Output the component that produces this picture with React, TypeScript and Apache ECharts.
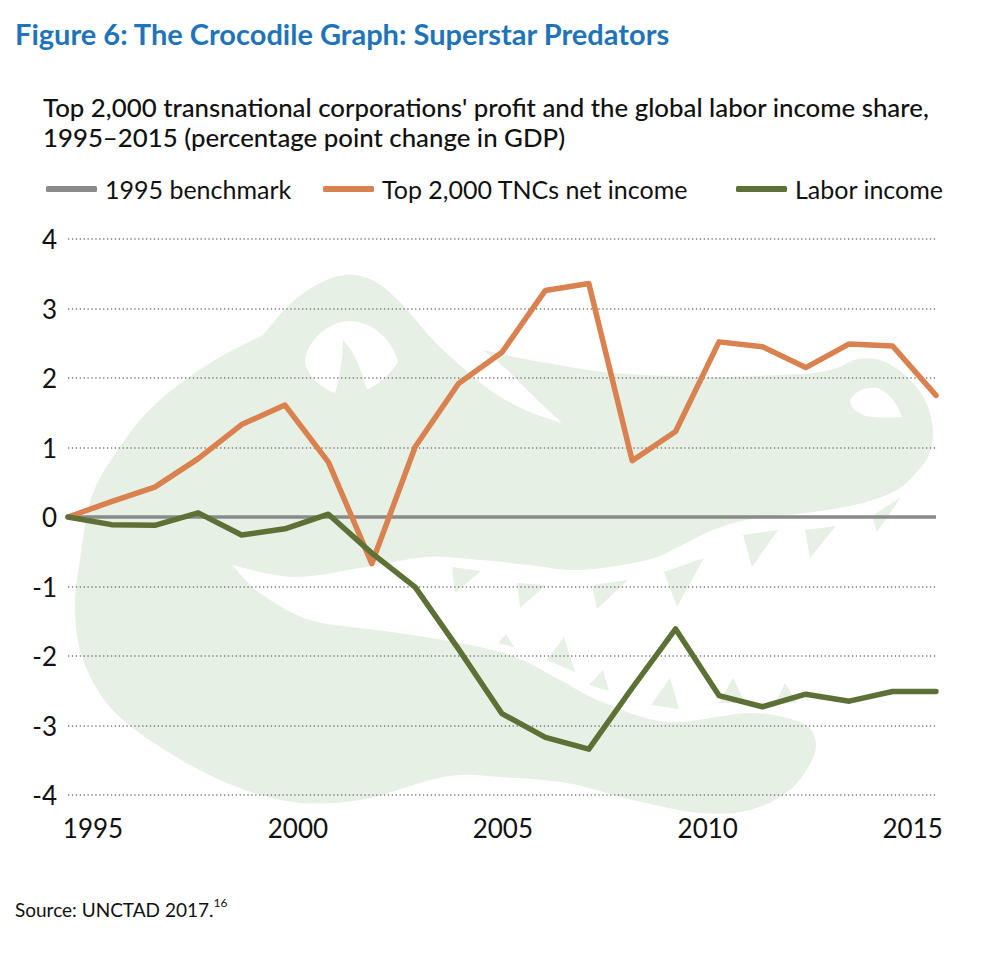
import React, { useEffect, useRef } from 'react';
import * as echarts from 'echarts';

// ---------- data ----------
const YEARS = ['1995', '1996', '1997', '1998', '1999', '2000', '2001', '2002', '2003', '2004', '2005',
  '2006', '2007', '2008', '2009', '2010', '2011', '2012', '2013', '2014', '2015'];
const BENCHMARK_1995 = [0, 0, 0, 0, 0, 0, 0, 0, 0, 0, 0, 0, 0, 0, 0, 0, 0, 0, 0, 0, 0];
const TNC_NET_INCOME = [0, 0.22, 0.43, 0.84, 1.33, 1.61, 0.79, -0.67, 1.01, 1.92, 2.37,
  3.26, 3.36, 0.81, 1.23, 2.52, 2.45, 2.15, 2.49, 2.46, 1.75];
const LABOR_INCOME = [0, -0.11, -0.12, 0.06, -0.26, -0.17, 0.04, -0.52, -1.01, -1.9, -2.83,
  -3.17, -3.34, -2.46, -1.61, -2.57, -2.73, -2.55, -2.65, -2.51, -2.51];
const YEAR_TICK_LABELS = [1995, 2000, 2005, 2010, 2015];
const SERIES_NAMES = ['1995 benchmark', 'Top 2,000 TNCs net income', 'Labor income'];

const TITLE = 'Figure 6: The Crocodile Graph: Superstar Predators';
const SUBTITLE_LINES = [
  "Top 2,000 transnational corporations' profit and the global labor income share,",
  '1995–2015 (percentage point change in GDP)',
];
const SOURCE = 'Source: UNCTAD 2017.';
const SOURCE_NOTE = '16';

// ---------- decorative crocodile silhouette (page coordinates) ----------
const SEG_A = [[232, 565], [260, 593], [310, 620], [377, 630], [443, 640], [510, 655], [560, 680], [600, 701],
  [667, 722], [750, 713], [800, 722], [815, 738], [812, 760], [790, 790], [750, 810], [700, 813], [633, 800],
  [567, 783], [500, 777], [460, 775], [427, 781], [360, 800], [293, 802], [227, 783], [160, 747], [110, 707],
  [82, 657], [75, 607], [80, 560], [93, 493], [127, 437], [160, 400], [210, 363], [263, 335]];
const SEG_B = [[263, 335], [290, 304], [318, 284], [345, 275], [372, 280], [400, 302], [433, 340], [460, 365],
  [490, 390], [525, 410], [562, 423]];
const SEG_C = [[562, 423], [530, 393], [505, 368], [483, 350]];
const SEG_D = [[483, 350], [520, 358], [547, 363], [613, 373], [713, 377], [780, 375], [813, 373], [837, 368],
  [858, 359], [883, 361], [907, 377], [925, 400], [933, 430], [929, 455], [915, 474], [897, 490], [863, 503],
  [813, 512], [747, 520], [713, 530], [680, 546], [647, 560], [580, 570], [530, 565], [480, 560], [427, 557],
  [360, 568], [293, 577], [232, 565]];
const TEETH = [
  [[517, 583], [546, 585], [520, 608]],
  [[592, 585], [628, 580], [597, 609]],
  [[664, 572], [704, 558], [677, 607]],
  [[743, 535], [778, 530], [752, 567]],
  [[805, 530], [836, 526], [810, 558]],
  [[872, 516], [901, 497], [877, 532]],
  [[452, 567], [481, 571], [455, 593]],
  [[498, 643], [514, 647], [506, 634]],
  [[547, 660], [575, 672], [564, 637]],
  [[589, 685], [609, 691], [603, 670]],
  [[651, 705], [679, 709], [670, 678]],
  [[719, 703], [745, 703], [733, 678]],
  [[776, 702], [797, 703], [785, 683]],
];
const EYES_PATH =
  'M335,393 C315,385 300,368 307,352 C315,332 335,321 350,321 C372,322 392,338 398,362 ' +
  'C390,375 378,384 367,390 C362,372 355,352 343,340 C342,360 340,378 335,393 Z ' +
  'M850,402 C852,392 865,387 877,388 C890,392 898,405 902,417 C890,418 875,418 866,416 C858,413 850,408 850,402 Z';

function smoothSeg(pts: number[][], withMove: boolean): string {
  let d = withMove ? `M${pts[0][0]},${pts[0][1]} ` : '';
  for (let i = 0; i < pts.length - 1; i++) {
    const p0 = pts[i - 1] || pts[i];
    const p1 = pts[i];
    const p2 = pts[i + 1];
    const p3 = pts[i + 2] || p2;
    const c1x = p1[0] + (p2[0] - p0[0]) / 6;
    const c1y = p1[1] + (p2[1] - p0[1]) / 6;
    const c2x = p2[0] - (p3[0] - p1[0]) / 6;
    const c2y = p2[1] - (p3[1] - p1[1]) / 6;
    d += `C${c1x.toFixed(1)},${c1y.toFixed(1)} ${c2x.toFixed(1)},${c2y.toFixed(1)} ${p2[0]},${p2[1]} `;
  }
  return d;
}

const BODY_PATH =
  smoothSeg(SEG_A, true) + smoothSeg(SEG_B, false) + smoothSeg(SEG_C, false) + smoothSeg(SEG_D, false) + 'Z ' +
  TEETH.map((t) => `M${t[0][0]},${t[0][1]} L${t[1][0]},${t[1][1]} L${t[2][0]},${t[2][1]} Z`).join(' ');

let shapesRegistered = false;
function registerShapes() {
  if (shapesRegistered) return;
  echarts.graphic.registerShape('crocBody', echarts.graphic.extendPath(BODY_PATH, {}) as any);
  echarts.graphic.registerShape('crocEyes', echarts.graphic.extendPath(EYES_PATH, {}) as any);
  shapesRegistered = true;
}

// ---------- styles ----------
const FONT = 'Lato, "Open Sans", sans-serif';
const COLORS = { benchmark: '#8a8a8a', tnc: '#d9814f', labor: '#5d7136', croc: '#e7f0e4', title: '#1f74b9' };

export default function App() {
  const ref = useRef<HTMLDivElement>(null);

  useEffect(() => {
    if (!ref.current) return;
    registerShapes();
    const chart = echarts.init(ref.current, undefined, { renderer: 'svg' });
    const legendBase = {
      top: 174,
      itemWidth: 51,
      itemHeight: 6,
      icon: 'roundRect',
      padding: 0,
      itemGap: 0,
      selectedMode: false,
      textStyle: { fontFamily: FONT, fontSize: 25, lineHeight: 30, color: '#111', padding: [0, 0, 0, 3] },
    };
    chart.setOption({
      animation: false,
      backgroundColor: '#ffffff',
      title: [
        {
          text: TITLE,
          left: 15,
          top: 18,
          padding: 0,
          textStyle: {
            fontFamily: FONT,
            fontWeight: 'bold',
            fontSize: 29,
            lineHeight: 30,
            color: COLORS.title,
          },
        },
        {
          text: SUBTITLE_LINES.join('\n'),
          left: 43,
          top: 92,
          padding: 0,
          textStyle: { fontFamily: FONT, fontWeight: 500, fontSize: 25.8, lineHeight: 30, color: '#111' },
        },
        {
          text: `{a|${SOURCE}}{sup|${SOURCE_NOTE}}`,
          left: 15,
          top: 896,
          padding: 0,
          textStyle: {
            fontWeight: 'normal',
            rich: {
              a: { fontFamily: FONT, fontWeight: 'normal', fontSize: 19, lineHeight: 26, color: '#111' },
              sup: {
                fontFamily: FONT, fontWeight: 'normal', fontSize: 12, lineHeight: 26, color: '#111',
                verticalAlign: 'top', padding: [0, 0, 0, 0],
              },
            },
          },
        },
      ],
      legend: [
        { ...legendBase, left: 46, data: [{ name: SERIES_NAMES[0] }] },
        { ...legendBase, left: 323, data: [{ name: SERIES_NAMES[1] }] },
        { ...legendBase, left: 736, data: [{ name: SERIES_NAMES[2] }] },
      ],
      grid: { left: 68, right: 68, top: 239, bottom: 169, containLabel: false },
      xAxis: [
        {
          type: 'category',
          data: YEARS,
          boundaryGap: false,
          axisLine: { show: false },
          axisTick: { show: false },
          axisLabel: { show: false },
          splitLine: { show: false },
        },
        {
          type: 'value',
          position: 'bottom',
          min: 1994.39,
          max: 2015.57,
          axisLine: { show: false },
          axisTick: { show: false },
          splitLine: { show: false },
          axisLabel: {
            customValues: YEAR_TICK_LABELS,
            formatter: (v: number) => String(Math.round(v)),
            fontFamily: FONT,
            fontSize: 26,
            lineHeight: 30,
            margin: 18,
            color: '#111',
          },
        },
      ],
      yAxis: {
        type: 'value',
        min: -4,
        max: 4,
        interval: 1,
        axisLine: { show: false },
        axisTick: { show: false },
        axisLabel: { fontFamily: FONT, fontSize: 26, lineHeight: 26, margin: 11, color: '#111', padding: [5, 0, 0, 0] },
        splitLine: { show: true, lineStyle: { color: '#7a7a7a', width: 1.5, type: [1.3, 2.6] } },
      },
      graphic: {
        elements: [
          { type: 'crocBody', x: 0, y: 0, z: -10, silent: true, style: { fill: COLORS.croc } },
          { type: 'crocEyes', x: 0, y: 0, z: -9, silent: true, style: { fill: '#ffffff' } },
        ],
      },
      series: [
        {
          name: SERIES_NAMES[0],
          type: 'line',
          data: BENCHMARK_1995,
          color: COLORS.benchmark,
          symbol: 'none',
          lineStyle: { width: 3.5, color: COLORS.benchmark },
          z: 2,
        },
        {
          name: SERIES_NAMES[1],
          type: 'line',
          data: TNC_NET_INCOME,
          color: COLORS.tnc,
          symbol: 'none',
          lineStyle: { width: 5.5, color: COLORS.tnc, cap: 'round', join: 'round' },
          z: 3,
        },
        {
          name: SERIES_NAMES[2],
          type: 'line',
          data: LABOR_INCOME,
          color: COLORS.labor,
          symbol: 'none',
          lineStyle: { width: 5.5, color: COLORS.labor, cap: 'round', join: 'round' },
          z: 4,
        },
      ],
    });
    return () => chart.dispose();
  }, []);

  return (
    <div
      ref={ref}
      style={{ position: 'absolute', left: 0, top: 0, width: 1004, height: 964, background: '#fff' }}
    />
  );
}
